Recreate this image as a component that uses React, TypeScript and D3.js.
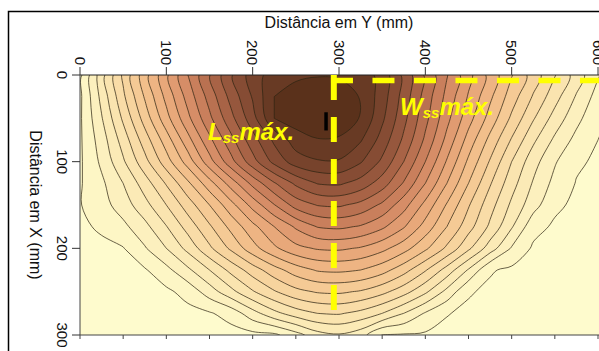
import React from 'react';
import * as d3 from 'd3';

// Sampling positions of the measured field (mm)
const distY = [0, 25, 50, 75, 100, 125, 150, 175, 200, 225, 250, 275, 300, 325, 350, 375, 400, 425, 450, 475, 500, 525, 550, 575, 600, 625];
const distX = [0, 25, 50, 75, 100, 125, 150, 175, 200, 225, 250, 275, 300];

// Field level, one row per X distance, one value per Y distance
const rowX000 = [0.74, 3.6, 6.2, 8.6, 10.8, 13.0, 14.95, 16.9, 18.5, 19.5, 19.85, 19.95, 19.9, 19.6, 18.64, 16.75, 14.86, 13.07, 11.33, 9.67, 8.06, 6.56, 5.06, 3.56, 2.1, 0.9];
const rowX025 = [0.8, 3.3, 5.8, 8.1, 10.3, 12.4, 14.4, 16.35, 18.1, 20.0, 20.35, 20.5, 20.45, 19.95, 18.5, 16.6, 14.6, 12.7, 10.9, 9.2, 7.5, 5.9, 4.4, 2.9, 1.6, 0.8];
const rowX050 = [0.85, 2.92, 5.18, 7.42, 9.64, 11.75, 13.77, 15.7, 17.6, 20.0, 20.5, 20.6, 20.5, 19.95, 18.2, 16.3, 14.3, 12.3, 10.4, 8.6, 6.8, 5.1, 3.6, 2.3, 1.2, 0.7];
const rowX075 = [0.85, 2.5, 4.45, 6.5, 8.5, 10.65, 12.75, 14.7, 16.6, 18.2, 19.5, 19.95, 19.9, 19.1, 17.6, 15.8, 13.8, 11.7, 9.6, 7.7, 5.9, 4.2, 2.8, 1.7, 1.0, 0.65];
const rowX100 = [0.85, 2.2, 3.85, 5.65, 7.55, 9.45, 11.6, 13.65, 15.6, 17.3, 18.5, 18.9, 18.9, 18.1, 16.8, 15.0, 13.0, 10.9, 8.8, 6.9, 5.0, 3.4, 2.1, 1.15, 0.85, 0.6];
const rowX125 = [0.9, 1.8, 3.0, 4.5, 6.1, 7.8, 9.6, 11.45, 13.3, 14.9, 16.2, 17.05, 17.15, 16.6, 15.5, 13.9, 12.0, 10.0, 8.0, 6.1, 4.4, 2.9, 1.7, 0.95, 0.75, 0.55];
const rowX150 = [0.95, 1.6, 2.5, 3.65, 5.0, 6.5, 8.0, 9.65, 11.35, 12.95, 14.4, 15.05, 15.15, 14.7, 13.8, 12.4, 10.7, 8.9, 7.1, 5.4, 3.8, 2.4, 1.2, 0.8, 0.65, 0.5];
const rowX175 = [0.75, 1.2, 1.75, 2.7, 3.95, 5.4, 6.85, 8.3, 9.7, 11.0, 12.15, 13.05, 13.2, 12.9, 12.2, 11.1, 9.6, 8.0, 6.4, 4.8, 3.1, 1.35, 0.85, 0.7, 0.55, 0.45];
const rowX200 = [0.55, 0.7, 0.95, 1.9, 3.0, 4.3, 5.8, 7.2, 8.6, 9.8, 10.7, 11.1, 11.17, 10.9, 10.3, 9.4, 8.2, 6.8, 5.2, 3.5, 1.9, 0.85, 0.7, 0.6, 0.5, 0.45];
const rowX225 = [0.45, 0.55, 0.65, 0.9, 1.7, 2.8, 4.0, 5.3, 6.5, 7.6, 8.5, 9.1, 9.2, 9.0, 8.4, 7.4, 6.1, 4.6, 2.9, 1.1, 0.8, 0.7, 0.6, 0.5, 0.45, 0.4];
const rowX250 = [0.4, 0.45, 0.5, 0.6, 0.8, 1.35, 2.5, 3.7, 4.9, 5.9, 6.7, 7.1, 7.17, 6.9, 6.3, 5.4, 4.2, 2.7, 1.1, 0.8, 0.7, 0.6, 0.55, 0.5, 0.45, 0.4];
const rowX275 = [0.35, 0.4, 0.45, 0.5, 0.6, 0.7, 0.9, 1.4, 2.6, 3.7, 4.5, 5.0, 5.1, 4.7, 4.0, 3.0, 1.9, 1.05, 0.8, 0.7, 0.6, 0.55, 0.5, 0.45, 0.4, 0.35];
const rowX300 = [0.3, 0.32, 0.35, 0.4, 0.45, 0.5, 0.55, 0.6, 0.7, 0.8, 1.6, 2.6, 2.9, 2.4, 0.98, 0.9, 0.85, 0.75, 0.7, 0.6, 0.55, 0.5, 0.45, 0.4, 0.35, 0.3];

const gridRows = [rowX000, rowX025, rowX050, rowX075, rowX100, rowX125, rowX150, rowX175, rowX200, rowX225, rowX250, rowX275, rowX300];

// Contour thresholds and the fill of each band (below first level, then one per level)
const levels = [1, 2, 3, 4, 5, 6, 7, 8, 9, 10, 11, 12, 13, 14, 15, 16, 17, 18, 19, 20];
const bandColors = [
  '#fefbcd', '#fdf6c5', '#fcf0be', '#fbeab6', '#fae4af', '#f9dca7', '#f7d49e',
  '#f5ca95', '#f2bf8b', '#eeb483', '#e8a87a', '#e09b71', '#d68d67', '#c97f5c',
  '#b97151', '#a86346', '#96573d', '#864c34', '#77432c', '#683a24', '#5a311b',
];

const topTicks = [0, 100, 200, 300, 400, 500, 600];
const leftTicks = [0, 100, 200, 300];
const bottomTicks = [0, 50, 100, 150, 200, 250, 300, 350, 400, 450, 500, 550, 600];

// Guides for the maximum extents (mm)
const lssGuideY = 294;
const lssGuideX = [0, 274];
const wssGuideX = 6.3;
const wssGuideY = [290.7, 625];
const probeY = 285;
const probeX = [43, 64];
const lssLabelAt = [148.3, 75];
const wssLabelAt = [370.7, 46.2];

const FONT = "Arial, 'Liberation Sans', Helvetica, sans-serif";

export default function App() {
  const sy = d3.scaleLinear().domain([0, 600]).range([80, 598]);
  const sx = d3.scaleLinear().domain([0, 300]).range([75, 335]);

  const left = sy(0);
  const right = sy(distY[distY.length - 1]);
  const top = sx(0);
  const bottom = sx(300);

  const nCols = distY.length;
  const nRows = distX.length;
  const stepY = distY[1] - distY[0];
  const stepX = distX[1] - distX[0];
  const values = gridRows.flat();

  const bands = d3.contours().size([nCols, nRows]).thresholds(levels)(values);

  const toPx = (p: number[]): [number, number] => [
    sy(distY[0] + (p[0] - 0.5) * stepY),
    sx(distX[0] + (p[1] - 0.5) * stepX),
  ];
  const ringLine = d3.line().curve(d3.curveCatmullRomClosed.alpha(0.5));

  const bandPaths = bands.map((mp) => {
    const d = mp.coordinates
      .map((poly) => poly.map((ring) => ringLine(ring.slice(0, -1).map(toPx)) || '').join(''))
      .join('');
    return { value: mp.value, d };
  });

  const subShift = 3;

  return (
    <svg width={599} height={351} style={{ position: 'absolute', left: 0, top: 0 }} fontFamily={FONT}>
      <defs>
        <clipPath id="plotClip">
          <rect x={left} y={top} width={right - left} height={bottom - top} />
        </clipPath>
      </defs>

      <rect x={8.5} y={11.5} width={700} height={400} fill="#ffffff" stroke="#000" strokeWidth={1.5} />

      <g clipPath="url(#plotClip)">
        <rect x={left} y={top} width={right - left} height={bottom - top} fill={bandColors[0]} />
        {bandPaths.map((b) => (
          <path
            key={b.value}
            d={b.d}
            fill={bandColors[levels.indexOf(b.value) + 1]}
            fillRule="evenodd"
            stroke="#2c2412"
            strokeOpacity={0.85}
            strokeWidth={0.85}
          />
        ))}
      </g>

      {/* plot frame */}
      <line x1={left} x2={right} y1={top} y2={top} stroke="#222" strokeWidth={1} />
      <line x1={left} x2={left} y1={top} y2={bottom} stroke="#444" strokeWidth={1} />
      <line x1={left} x2={right} y1={bottom} y2={bottom} stroke="#444" strokeWidth={1} />

      {/* top axis */}
      {topTicks.map((t) => (
        <g key={`t${t}`}>
          <line x1={sy(t)} x2={sy(t)} y1={top} y2={top - 8} stroke="#333" strokeWidth={1} />
          <text
            transform={`translate(${sy(t)},${top - 10}) rotate(90)`}
            textAnchor="end"
            dy="0.36em"
            fontSize={15}
            fill="#111"
          >
            {t}
          </text>
        </g>
      ))}
      <text x={sy(300)} y={28} textAnchor="middle" fontSize={16} fill="#111">
        Distância em Y (mm)
      </text>

      {/* left axis */}
      {leftTicks.map((t) => (
        <g key={`l${t}`}>
          <line x1={left} x2={left - 8} y1={sx(t)} y2={sx(t)} stroke="#333" strokeWidth={1} />
          <text transform={`translate(57,${sx(t)}) rotate(90)`} textAnchor="middle" fontSize={15} fill="#111">
            {t}
          </text>
        </g>
      ))}
      <text transform={`translate(30,${sx(150)}) rotate(90)`} textAnchor="middle" fontSize={16} fill="#111">
        Distância em X (mm)
      </text>

      {/* bottom minor ticks */}
      {bottomTicks.map((t) => (
        <line key={`b${t}`} x1={sy(t)} x2={sy(t)} y1={bottom} y2={bottom + 4} stroke="#444" strokeWidth={1} />
      ))}

      {/* probe marker */}
      <line x1={sy(probeY)} x2={sy(probeY)} y1={sx(probeX[0])} y2={sx(probeX[1])} stroke="#000" strokeWidth={3.5} />

      {/* guides */}
      <line
        x1={sy(lssGuideY)}
        x2={sy(lssGuideY)}
        y1={sx(lssGuideX[0])}
        y2={sx(lssGuideX[1])}
        stroke="#ffff00"
        strokeWidth={6}
        strokeDasharray="25 17"
      />
      <line
        x1={sy(wssGuideY[0])}
        x2={sy(wssGuideY[1])}
        y1={sx(wssGuideX)}
        y2={sx(wssGuideX)}
        stroke="#ffff00"
        strokeWidth={5.5}
        strokeDasharray="22 19.5"
      />

      <text x={sy(lssLabelAt[0])} y={sx(lssLabelAt[1])} fontSize={24} fontWeight="bold" fontStyle="italic" fill="#ffff00">
        <tspan>L</tspan>
        <tspan fontSize={15} dy={subShift}>ss</tspan>
        <tspan dy={-subShift}>máx.</tspan>
      </text>
      <text x={sy(wssLabelAt[0])} y={sx(wssLabelAt[1])} fontSize={24} fontWeight="bold" fontStyle="italic" fill="#ffff00">
        <tspan>W</tspan>
        <tspan fontSize={15} dy={subShift}>ss</tspan>
        <tspan dy={-subShift}>máx.</tspan>
      </text>
    </svg>
  );
}
